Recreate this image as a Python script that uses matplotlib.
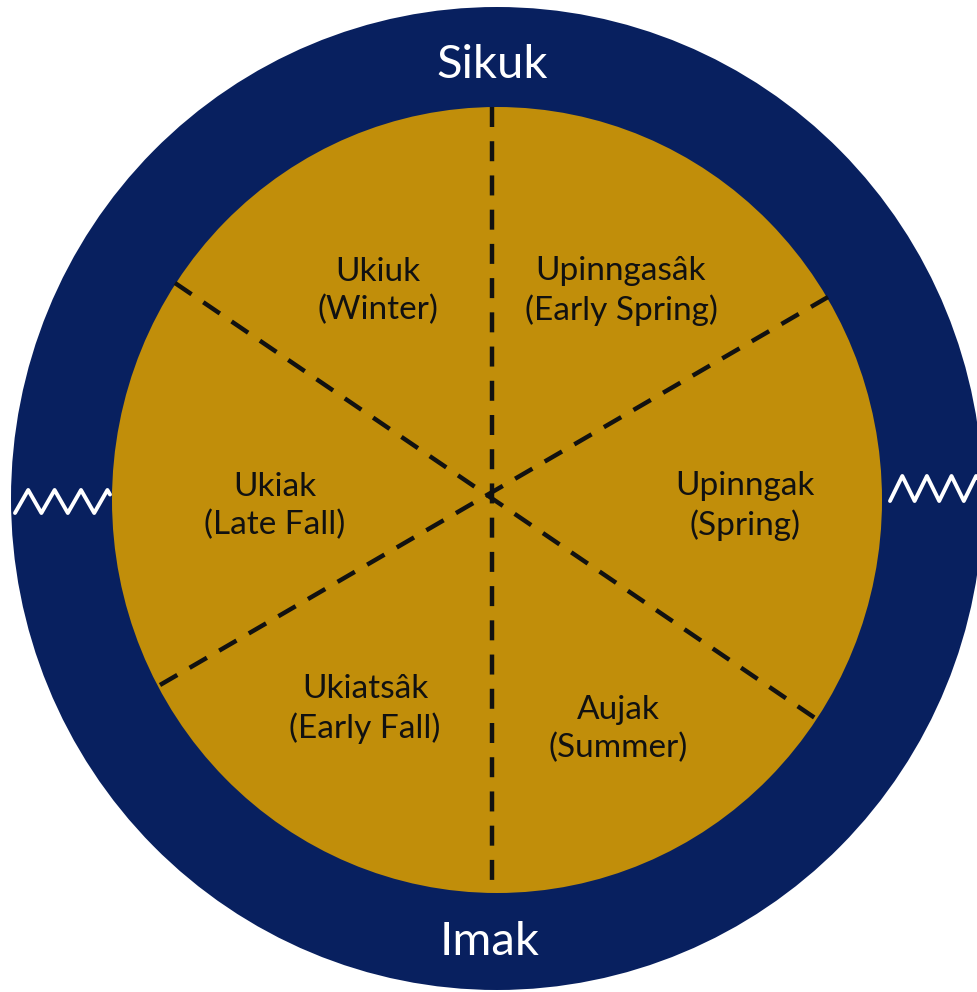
import numpy as np
import matplotlib.pyplot as plt
from matplotlib.patches import Ellipse

# 색상
navy = '#08205F'
gold = '#C18E0A'

# 계절 이름 (위 줄, 아래 줄)
season_names = ['Ukiuk', 'Upinngasâk', 'Ukiak', 'Upinngak', 'Ukiatsâk', 'Aujak']
season_english = ['(Winter)', '(Early Spring)', '(Late Fall)', '(Spring)', '(Early Fall)', '(Summer)']
outer_labels = ['Sikuk', 'Imak']

W, H = 977, 992
fig = plt.figure(figsize=(W / 100, H / 100), dpi=100)
ax = fig.add_axes([0, 0, 1, 1])
ax.set_xlim(0, W)
ax.set_ylim(H, 0)
ax.axis('off')

# 바깥 원, 안쪽 원
ax.add_patch(Ellipse((497, 498.5), 2 * 486, 2 * 491.5, color=navy, lw=0))
ax.add_patch(Ellipse((497, 500), 2 * 385, 2 * 393, color=gold, lw=0))

# 점선 (세로 1개, 대각선 2개)
cut_lines = [((492, 107), (492, 890)),
             ((175, 283), (815, 718)),
             ((160, 685), (828, 297))]
for (x0, y0), (x1, y1) in cut_lines:
    ax.plot([x0, x1], [y0, y1], color='#111111', lw=3.2,
            dashes=(4.5, 3.2), solid_capstyle='butt', dash_capstyle='butt')

# 물결 (좌/우) - 지그재그
def wave(x_start, n_half, half, y_low, y_high, x_end):
    xs, ys = [x_start], [y_low]
    for i in range(1, n_half + 1):
        xs.append(x_start + i * half)
        ys.append(y_high if i % 2 else y_low)
    # 마지막 조금 더 이어지는 부분
    frac = (x_end - xs[-1]) / half
    xs.append(x_end)
    ys.append(ys[-1] + (ys[-2] - ys[-1]) * frac)
    ax.plot(xs, ys, color='white', lw=2.8, solid_joinstyle='round',
            solid_capstyle='round')

wave(15, 7, 13.2, 513, 490, 110)
wave(890, 7, 12.3, 501, 476, 977)

# 계절 라벨
label_pos = [(378, 291), (621, 291), (275, 506), (745, 506), (365, 709), (618, 729)]
for (x, y), nm, en in zip(label_pos, season_names, season_english):
    ax.text(x, y, nm + '\n' + en, ha='center', va='center', fontsize=24,
            family='Lato', color='#111111', linespacing=1.3)

ax.text(492, 65, outer_labels[0], ha='center', va='center', fontsize=34,
        family='Lato', color='white')
ax.text(490, 942, outer_labels[1], ha='center', va='center', fontsize=34,
        family='Lato', color='white')

fig.savefig('out.png', dpi=100)
